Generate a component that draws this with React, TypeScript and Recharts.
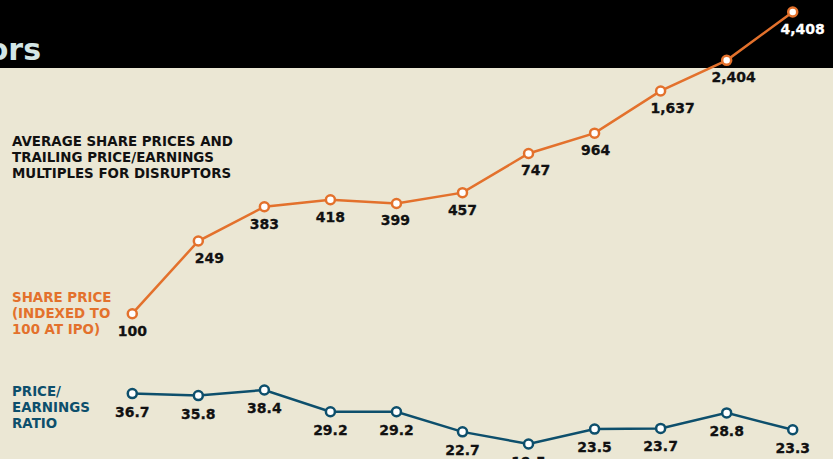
import React from "react";
import { LineChart, Line, XAxis, YAxis, LabelList } from "recharts";

const periods = [0, 1, 2, 3, 4, 5, 6, 7, 8, 9, 10];
const sharePrice = [100, 249, 383, 418, 399, 457, 747, 964, 1637, 2404, 4408];
const peRatio = [36.7, 35.8, 38.4, 29.2, 29.2, 22.7, 19.5, 23.5, 23.7, 28.8, 23.3];
const sharePriceLabels = ["100", "249", "383", "418", "399", "457", "747", "964", "1,637", "2,404", "4,408"];
const peLabels = ["36.7", "35.8", "38.4", "29.2", "29.2", "22.7", "19.5", "23.5", "23.7", "28.8", "23.3"];

// label nudges (layout only)
const priceLabelDx = [0, 11, 0, 0, -1, 0, 7, 1, 12, 7, 10];

const data = periods.map((p, i) => ({
  x: p,
  price: sharePrice[i],
  pe: peRatio[i],
  priceLabel: sharePriceLabels[i],
  peLabel: peLabels[i],
}));

const ORANGE = "#e3712c";
const BLUE = "#0d4f6c";
const BG = "#ebe7d4";
const FONT = "'DejaVu Sans', 'Liberation Sans', sans-serif";

const makeLabel = (labels: string[], dxs: number[] | null, dy: number, lastWhite: boolean) => (props: any) => {
  const { x, y, index } = props;
  const dx = dxs ? dxs[index] : 0;
  const white = lastWhite && index === labels.length - 1;
  return (
    <text
      x={x + dx}
      y={y + dy}
      textAnchor="middle"
      fontFamily={FONT}
      fontWeight={700}
      fontSize={14}
      stroke={white ? "#ffffff" : "#111111"}
      strokeWidth={0.3}
      fill={white ? "#ffffff" : "#111111"}
    >
      {labels[index]}
    </text>
  );
};

const dot = (color: string) => ({ r: 4.5, stroke: color, strokeWidth: 2.5, fill: "#ffffff" });

const noteStyle = (color: string, top: number): React.CSSProperties => ({
  position: "absolute",
  left: 12,
  top,
  color,
  fontFamily: FONT,
  fontWeight: 700,
  fontSize: 13.4,
  lineHeight: "16px",
  whiteSpace: "nowrap",
});

export default function App() {
  return (
    <div style={{ position: "absolute", left: 0, top: 0, width: 833, height: 459, background: BG, overflow: "hidden" }}>
      <div style={{ position: "absolute", left: 0, top: 0, width: 833, height: 68, background: "#000" }} />
      <div
        style={{
          position: "absolute",
          right: 833 - 41,
          top: 30,
          color: "#d3e6e6",
          fontFamily: FONT,
          fontWeight: 700,
          fontSize: 30,
          lineHeight: "40px",
          whiteSpace: "nowrap",
        }}
      >
        ors
      </div>
      <div style={noteStyle("#111", 134)}>
        AVERAGE SHARE PRICES AND<br />TRAILING PRICE/EARNINGS<br />MULTIPLES FOR DISRUPTORS
      </div>
      <div style={noteStyle(ORANGE, 290)}>
        SHARE PRICE<br />(INDEXED TO<br />100 AT IPO)
      </div>
      <div style={noteStyle(BLUE, 384)}>
        PRICE/<br />EARNINGS<br />RATIO
      </div>
      <div style={{ position: "absolute", left: 0, top: 0 }}>
        <LineChart width={833} height={459} data={data} margin={{ top: 0, right: 0, bottom: 0, left: 0 }}>
          <XAxis dataKey="x" type="number" domain={[-2.003, 10.61]} allowDataOverflow hide />
          <YAxis type="number" scale="log" domain={[16.15, 5126]} allowDataOverflow hide />
          <Line
            dataKey="price"
            stroke={ORANGE}
            strokeWidth={2.5}
            dot={dot(ORANGE)}
            activeDot={false}
            isAnimationActive={false}
          >
            <LabelList dataKey="priceLabel" content={makeLabel(sharePriceLabels, priceLabelDx, 22, true)} />
          </Line>
          <Line
            dataKey="pe"
            stroke={BLUE}
            strokeWidth={2.5}
            dot={dot(BLUE)}
            activeDot={false}
            isAnimationActive={false}
          >
            <LabelList dataKey="peLabel" content={makeLabel(peLabels, null, 23, false)} />
          </Line>
        </LineChart>
      </div>
    </div>
  );
}
